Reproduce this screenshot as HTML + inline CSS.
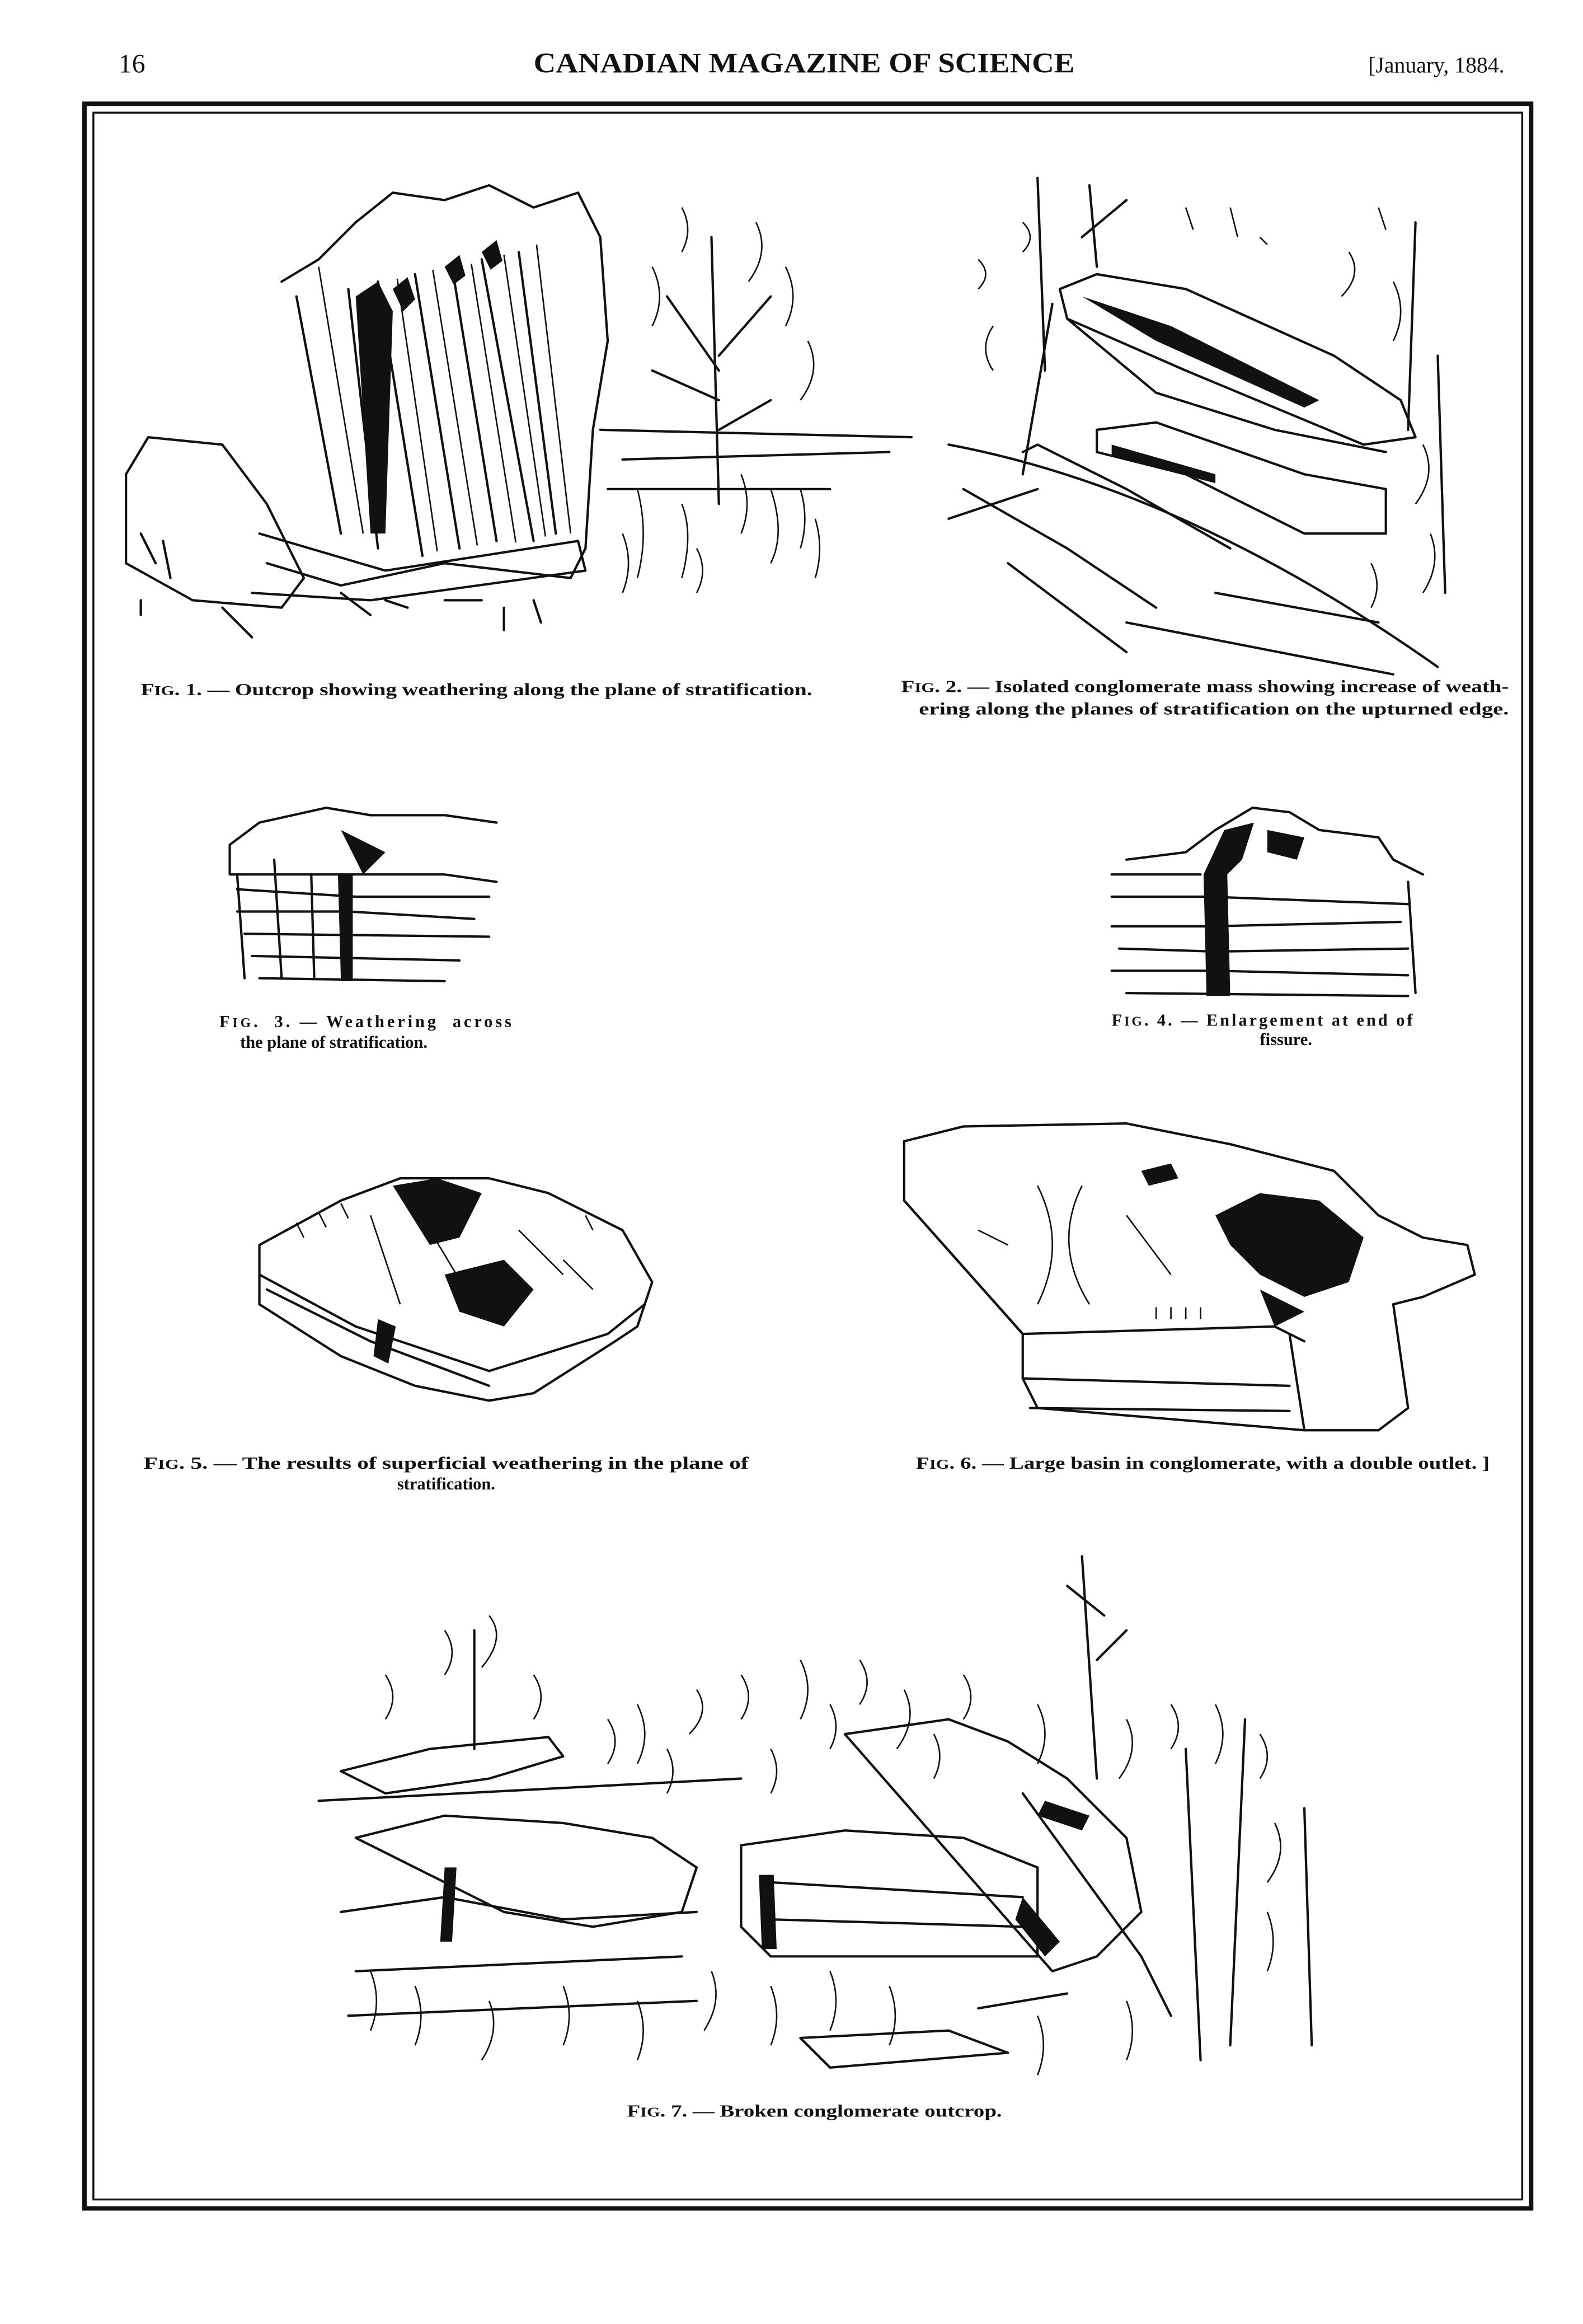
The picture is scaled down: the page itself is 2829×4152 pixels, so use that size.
<!DOCTYPE html>
<html><head><meta charset="utf-8"><style>
html,body{margin:0;padding:0;background:#fff;}
svg{display:block;}
text{font-family:"Liberation Serif",serif;fill:#111;}
.cap{font-size:11.5px;font-weight:bold;}
.s{fill:none;stroke:#111;stroke-width:1.6;stroke-linejoin:round;stroke-linecap:round;}
.t{fill:none;stroke:#111;stroke-width:1;}
.d{fill:#111;}
</style></head><body>
<svg width="2829" height="4152" viewBox="0 0 1068 1568" preserveAspectRatio="none" xmlns="http://www.w3.org/2000/svg">
<rect x="0" y="0" width="1068" height="1568" fill="#fff"/>
<text x="80" y="49" font-size="18">16</text>
<text x="360" y="49" font-size="19" font-weight="bold" textLength="365" lengthAdjust="spacingAndGlyphs">CANADIAN MAGAZINE OF SCIENCE</text>
<text x="1015" y="49" font-size="15" text-anchor="end">[January, 1884.</text>
<rect x="57" y="70" width="976" height="1420" fill="none" stroke="#111" stroke-width="3"/>
<rect x="63" y="76" width="964" height="1408" fill="none" stroke="#111" stroke-width="1.3"/>

<!-- Fig 1 -->
<g>
<path class="s" d="M190 190 L215 175 L240 150 L265 130 L300 135 L330 125 L360 140 L390 130 L405 160 L410 230 L400 290 L395 370 L385 390 L300 380 L230 395 L180 380"/>
<path class="s" d="M235 195 L255 370 M255 190 L285 375 M280 185 L310 370 M305 180 L335 365 M325 175 L360 365 M350 170 L375 360 M200 200 L230 360"/>
<path class="t" d="M215 180 L245 360 M268 188 L295 372 M292 182 L322 368 M318 178 L348 366 M340 172 L368 362 M362 165 L385 360"/>
<path class="s" d="M85 320 L100 295 L150 300 L180 340 L205 390 L190 410 L130 405 L85 380 Z"/>
<path class="s" d="M175 360 L260 385 L390 365 L395 385 L250 405 L170 400"/>
<path class="s" d="M405 290 L615 295 M420 310 L600 305 M410 330 L560 330"/>
<path class="s" d="M480 160 L485 340 M485 250 L450 200 M485 240 L520 200 M485 290 L520 270 M485 270 L440 250"/>
<path class="t" d="M440 180 q10 20 0 40 M460 140 q8 15 0 30 M510 150 q10 20 -5 40 M530 180 q10 20 0 40 M545 230 q10 20 -5 40 M430 330 q8 30 0 60 M460 340 q8 20 0 50 M520 330 q10 30 0 50 M550 350 q6 20 0 40 M500 320 q8 20 0 40 M540 330 q6 20 0 40 M420 360 q8 20 0 40 M470 370 q8 15 0 30"/>
<path class="d" d="M240 200 l15 -10 l10 20 l-5 150 l-10 0 z M265 195 l10 -8 l5 15 l-8 8 z M300 180 l10 -8 l4 14 l-8 6 z M325 170 l10 -8 l4 14 l-8 6 z"/>
<path class="s" d="M95 360 l10 20 M110 365 l5 25 M150 410 l20 20 M230 400 l20 15 M260 405 l15 5 M300 405 l25 0 M340 410 l0 15 M360 405 l5 15 M95 405 l0 10"/>
</g>

<!-- Fig 2 -->
<g>
<path class="s" d="M715 195 L740 185 L800 195 L900 240 L945 270 L955 295 L920 300 L800 250 L720 215 Z"/>
<path class="s" d="M720 215 L780 265 L860 290 L935 305 M710 205 L690 320"/>
<path class="s" d="M740 290 L780 285 L880 320 L935 330 L935 360 L880 360 L800 320 L740 305 Z"/>
<path class="s" d="M690 305 L700 300 L760 330 L830 370 M650 330 L720 370 L780 410 M700 330 L640 350"/>
<path class="s" d="M640 300 Q800 330 970 450 M680 380 L760 440 M760 420 L940 455 M820 400 L930 420"/>
<path class="s" d="M700 120 L705 250 M735 125 L740 180 M760 135 L730 160 M955 150 L950 290 M970 240 L975 400"/>
<path class="t" d="M660 175 q10 10 0 20 M670 220 q-10 15 0 30 M690 150 q10 10 0 20 M910 170 q10 15 -5 30 M940 190 q10 20 0 40 M960 300 q10 20 -5 40 M965 360 q8 20 -5 40 M925 380 q8 15 0 30 M800 140 l5 15 M830 140 l5 20 M850 160 l5 5 M930 140 l5 15"/>
<path class="d" d="M730 200 l60 20 l100 50 l-10 5 l-100 -45 z M750 300 l70 20 l0 6 l-70 -18 z"/>
</g>

<text class="cap" x="95" y="469" textLength="453" lengthAdjust="spacingAndGlyphs">F<tspan font-size="9">IG</tspan>. 1. — Outcrop showing weathering along the plane of stratification.</text>
<text class="cap" x="608" y="467" textLength="410" lengthAdjust="spacingAndGlyphs">F<tspan font-size="9">IG</tspan>. 2. — Isolated conglomerate mass showing increase of weath-</text>
<text class="cap" x="620" y="482" textLength="398" lengthAdjust="spacingAndGlyphs">ering along the planes of stratification on the upturned edge.</text>

<!-- Fig 3 -->
<g>
<path class="s" d="M155 570 L175 555 L220 545 L250 550 L300 550 L335 555 M155 570 L155 590 L300 590 L335 595"/>
<path class="s" d="M160 600 L240 605 L330 605 M160 615 L235 615 L320 620 M165 630 L330 632 M170 645 L310 648 M175 660 L300 662"/>
<path class="s" d="M160 590 L165 660 M185 580 L190 660 M210 590 L212 660"/>
<path class="d" d="M228 590 l10 0 l0 72 l-8 0 z M230 560 l30 15 l-15 15 z"/>
</g>
<text class="cap" x="148" y="693" textLength="197" lengthAdjust="spacing">F<tspan font-size="9">IG</tspan>.&#160;&#160;3. — Weathering&#160;&#160;across</text>
<text class="cap" x="162" y="707">the plane of stratification.</text>

<!-- Fig 4 -->
<g>
<path class="s" d="M760 580 L800 575 L820 560 L845 545 L870 548 L890 560 L930 565 L940 580 L960 590 M950 595 L955 670"/>
<path class="s" d="M750 590 L810 590 M750 605 L815 605 L950 610 M750 625 L815 625 L945 622 M755 640 L820 642 L950 640 M750 655 L820 655 L950 658 M760 670 L950 672"/>
<path class="d" d="M812 590 l14 -30 l20 -5 l-8 25 l-10 10 l2 82 l-16 0 z M855 560 l25 5 l-5 15 l-20 -5 z"/>
</g>
<text class="cap" x="750" y="692" textLength="203" lengthAdjust="spacing">F<tspan font-size="9">IG</tspan>. 4. — Enlargement at end of</text>
<text class="cap" x="850" y="705">fissure.</text>

<!-- Fig 5 -->
<g>
<path class="s" d="M175 840 L230 810 L270 795 L330 795 L370 805 L420 830 L440 865 L430 895 L415 905 L360 940 L330 945 L280 935 L230 915 L175 880 Z"/>
<path class="s" d="M175 860 L240 895 L330 925 L410 900 L435 880 M180 870 L250 905 L330 935"/>
<path class="d" d="M265 800 l30 -5 l30 10 l-15 30 l-20 5 z M300 860 l40 -10 l20 20 l-20 25 l-30 -10 z M255 890 l12 5 l-5 25 l-10 -5 z"/>
<path class="t" d="M250 820 l20 60 M290 830 l30 50 M350 830 l30 30 M380 850 l20 20 M200 825 l5 10 M215 818 l5 10 M230 812 l5 10 M395 820 l5 10"/>
</g>
<text class="cap" x="97" y="991" textLength="408" lengthAdjust="spacingAndGlyphs">F<tspan font-size="9">IG</tspan>. 5. — The results of superficial weathering in the plane of</text>
<text class="cap" x="268" y="1005">stratification.</text>

<!-- Fig 6 -->
<g>
<path class="s" d="M610 770 L650 760 L760 758 L830 772 L900 790 L930 820 L960 835 L990 840 L995 860 L960 875 L940 880 L950 950 L930 965 L880 965 L700 950 L690 930 L690 900 L610 810 Z"/>
<path class="s" d="M610 810 L690 900 L860 895 L880 905 M690 930 L870 935 M695 950 L870 952 M870 900 L880 965"/>
<path class="d" d="M820 820 l30 -15 l40 5 l30 25 l-10 30 l-30 10 l-30 -15 l-20 -20 z M850 870 l30 15 l-20 10 z M770 790 l20 -5 l5 10 l-20 5 z"/>
<path class="t" d="M700 800 q20 40 0 80 M730 800 q-20 40 5 80 M760 820 l30 40 M660 830 l20 10 M780 890 l0 -8 M790 890 l0 -8 M800 890 l0 -8 M810 890 l0 -8"/>
</g>
<text class="cap" x="618" y="991" textLength="387" lengthAdjust="spacingAndGlyphs">F<tspan font-size="9">IG</tspan>. 6. — Large basin in conglomerate, with a double outlet. ]</text>

<!-- Fig 7 -->
<g>
<path class="s" d="M230 1195 L290 1180 L370 1172 L380 1185 L330 1200 L260 1210 Z M215 1215 L500 1200"/>
<path class="s" d="M240 1240 L300 1225 L380 1230 L440 1240 L470 1260 L460 1290 L400 1300 L340 1290 L300 1270 Z"/>
<path class="s" d="M230 1290 L300 1280 L380 1295 L470 1290 M240 1330 L460 1320 M235 1360 L470 1350"/>
<path class="s" d="M500 1245 L570 1235 L650 1240 L700 1260 L700 1320 L520 1320 L500 1300 Z M520 1270 L690 1280 M520 1295 L690 1300"/>
<path class="s" d="M570 1170 L640 1160 L680 1175 L720 1200 L760 1240 L770 1290 L740 1320 L710 1330 Z M690 1210 L770 1320 L790 1360"/>
<path class="s" d="M540 1375 L640 1370 L680 1385 L560 1395 Z M660 1355 L720 1345"/>
<path class="d" d="M300 1260 l8 0 l-3 50 l-8 0 z M512 1265 l10 0 l2 50 l-10 0 z M690 1280 l25 30 l-10 10 l-20 -25 z M705 1215 l30 10 l-5 10 l-30 -10 z"/>
<path class="s" d="M730 1050 L740 1200 M745 1090 L720 1070 M740 1120 L760 1100 M800 1180 L810 1390 M840 1160 L830 1380 M880 1220 L885 1380 M320 1100 L320 1180"/>
<path class="t" d="M300 1100 q10 15 0 30 M330 1090 q12 15 -5 35 M360 1130 q10 15 0 30 M430 1150 q10 20 0 40 M470 1140 q10 15 -5 30 M500 1130 q10 15 0 30 M540 1120 q10 20 0 40 M580 1120 q10 15 0 30 M610 1140 q10 20 -5 40 M650 1130 q10 15 0 30 M700 1150 q10 20 0 40 M760 1160 q10 20 -5 40 M790 1150 q10 15 0 30 M820 1150 q10 20 0 40 M850 1170 q10 15 0 30 M860 1230 q10 20 -5 40 M855 1290 q8 20 0 40 M250 1330 q8 20 0 40 M280 1340 q8 20 0 40 M330 1350 q8 20 -5 40 M380 1340 q8 20 0 40 M430 1350 q8 20 0 40 M480 1330 q8 20 -5 40 M520 1340 q8 20 0 40 M560 1330 q8 20 0 40 M600 1340 q8 20 0 40 M700 1360 q8 20 0 40 M760 1350 q8 20 0 40 M260 1130 q10 15 0 30 M410 1160 q10 15 0 30 M450 1180 q8 15 0 30 M520 1180 q8 15 0 30 M630 1170 q8 15 0 30 M560 1150 q8 15 0 30"/>
</g>
<text class="cap" x="423" y="1428" textLength="253" lengthAdjust="spacingAndGlyphs">F<tspan font-size="9">IG</tspan>. 7. — Broken conglomerate outcrop.</text>
</svg>
</body></html>
